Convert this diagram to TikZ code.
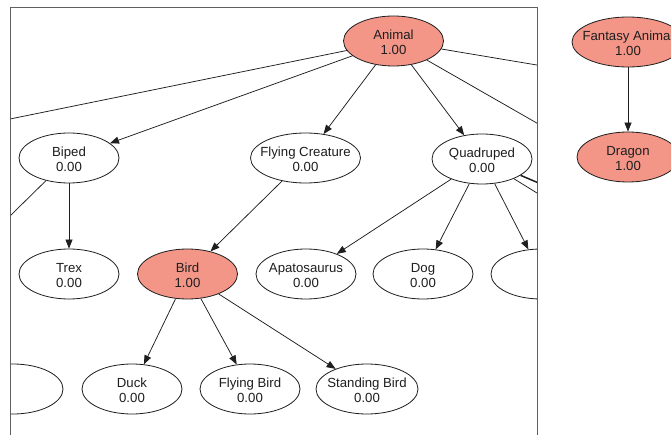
\documentclass[tikz,border=0pt]{standalone}
\usepackage{fontspec}
\setmainfont{Liberation Sans}
\usetikzlibrary{shapes.geometric,arrows.meta}
\definecolor{hit}{RGB}{243,150,136}
\definecolor{ink}{RGB}{30,30,30}
\definecolor{framegray}{RGB}{95,95,95}
% two centred lines that do not widen the ellipse, set a little low
\newcommand\oneline[1]{\raisebox{-1.3pt}[\height][\depth]{\makebox[0pt]{#1}}}
\newcommand\twoline[2]{\oneline{#1}\\\oneline{#2}}

\begin{document}
\begin{tikzpicture}[x=1pt,y=-1pt,
  gnode/.style={ellipse, draw=ink, line width=0.8pt, fill=white,
    minimum width=100pt, minimum height=50pt, inner sep=0pt,
    align=center, text=ink, font=\fontsize{13.2}{15}\selectfont},
  active/.style={gnode, fill=hit},
  link/.style={draw=ink, line width=0.75pt, -{Triangle[length=9pt,width=7pt]}},
  stub/.style={draw=ink, line width=0.75pt},
]
\useasboundingbox (0,0) rectangle (671,435);

% main graph, seen through the viewport
\begin{scope}
  \clip (10,7) rectangle (537,440);
  \node[active] (animal) at (393.5,41) {\twoline{Animal}{1.00}};

  \node[gnode] (biped) at (69,158) {\twoline{Biped}{0.00}};
  \node[gnode, minimum width=110pt] (flying) at (305.5,158) {\twoline{Flying Creature}{0.00}};
  \node[gnode] (quad) at (482,159) {\twoline{Quadruped}{0.00}};

  \node[gnode] (trex) at (69,274) {\twoline{Trex}{0.00}};
  \node[active] (bird) at (187.5,274) {\twoline{Bird}{1.00}};
  \node[gnode] (apato) at (306,274) {\twoline{Apatosaurus}{0.00}};
  \node[gnode] (dog) at (423,274) {\twoline{Dog}{0.00}};
  \node[gnode] (rnode) at (541,274) {};

  \node[gnode] (lnode) at (13,389) {};
  \node[gnode] (duck) at (132,389) {\twoline{Duck}{0.00}};
  \node[gnode] (fbird) at (250,389) {\twoline{Flying Bird}{0.00}};
  \node[gnode, minimum width=102pt] (sbird) at (367,389) {\twoline{Standing Bird}{0.00}};

  % edges leaving the viewport
  \coordinate (outA) at (-373.5,197);
  \coordinate (outB) at (680,89);
  \coordinate (outC) at (680,205);
  \coordinate (outD) at (-50,275);
  \coordinate (outE) at (600,209);
  \coordinate (outF) at (600,232);

  \draw[stub] (animal) -- (outA);
  \draw[stub] (animal) -- (outB);
  \draw[stub] (animal) -- (outC);
  \draw[stub] (biped) -- (outD);
  \draw[stub, line width=1.5pt] (quad) -- (outE);
  \draw[stub] (quad) -- (outF);

  \draw[link] (animal) -- (biped);
  \draw[link] (animal) -- (flying);
  \draw[link] (animal) -- (quad);
  \draw[link] (biped) -- (trex);
  \draw[link] (flying) -- (bird);
  \draw[link] (quad) -- (apato);
  \draw[link] (quad) -- (dog);
  \draw[link] (quad) -- (rnode);
  \draw[link] (bird) -- (duck);
  \draw[link] (bird) -- (fbird);
  \draw[link] (bird) -- (sbird);
\end{scope}

% viewport frame
\draw[framegray, line width=0.9pt] (10,440) -- (10,7) -- (537,7) -- (537,440);

% second graph beside the viewport
\begin{scope}
  \clip (0,0) rectangle (671,435);
  \node[active, minimum width=112pt] (fantasy) at (628,42) {\twoline{Fantasy Animal}{1.00}};
  \node[active, minimum width=102pt] (dragon) at (628,157) {\twoline{Dragon}{1.00}};
  \draw[link] (fantasy) -- (dragon);
\end{scope}
\end{tikzpicture}
\end{document}
